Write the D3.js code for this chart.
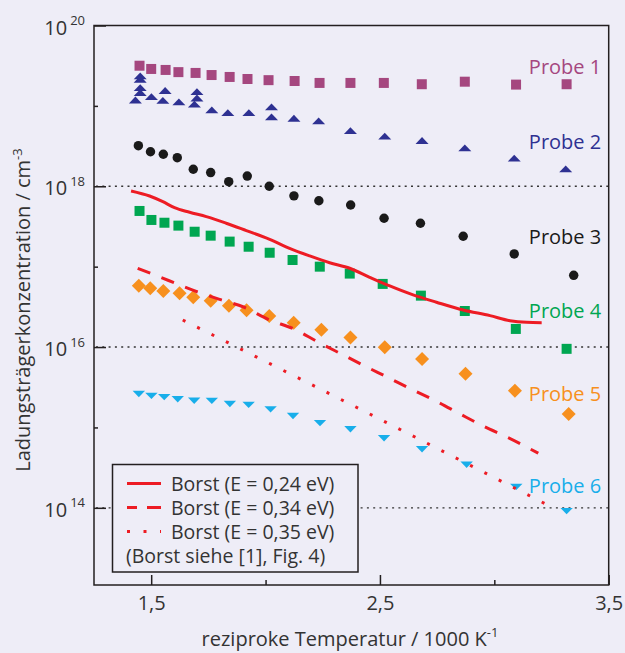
<!DOCTYPE html>
<html>
<head>
  <meta charset="utf-8">
  <title>Ladungsträgerkonzentration</title>
  <style>
    body { margin: 0; background: #eeedf7; }
    svg { display: block; font-family: "Open Sans", sans-serif; }
    .axis text { font-size: 20px; fill: #333; font-family: "Open Sans", sans-serif; }
    .axis line { stroke: #231f20; stroke-width: 1.5; }
    .axis .domain { display: none; }
  </style>
</head>
<body>
<svg id="chart" width="625" height="653"></svg>

<script src="https://cdn.jsdelivr.net/npm/d3@7"></script>
<script>
  // data: x = reciprocal temperature (1000/K), n = carrier concentration (cm^-3)
  const probeNames = ["Probe 1", "Probe 2", "Probe 3", "Probe 4", "Probe 5", "Probe 6"];

  const probe1X = [1.449, 1.500, 1.563, 1.619, 1.694, 1.764, 1.843, 1.921, 2.013, 2.127, 2.236, 2.371, 2.517, 2.683, 2.871, 3.095, 3.316];
  const probe1N = [3.16e19, 2.88e19, 2.80e19, 2.63e19, 2.57e19, 2.42e19, 2.29e19, 2.16e19, 2.09e19, 2.04e19, 1.93e19, 1.93e19, 1.93e19, 1.86e19, 2.0e19, 1.84e19, 1.86e19];

  const probe2X = [1.452, 1.452, 1.452, 1.452, 1.431, 1.501, 1.561, 1.551, 1.621, 1.700, 1.700, 1.689, 1.765, 1.835, 1.927, 2.026, 2.026, 2.124, 2.232, 2.371, 2.521, 2.684, 2.871, 3.087, 3.312];
  const probe2N = [2.36e19, 2.14e19, 1.68e19, 1.46e19, 1.18e19, 1.30e19, 1.55e19, 1.17e19, 1.12e19, 1.50e19, 1.25e19, 1.05e19, 8.9e18, 8.2e18, 8.2e18, 9.7e18, 7.3e18, 7.0e18, 6.5e18, 4.9e18, 4.2e18, 3.7e18, 3.0e18, 2.23e18, 1.64e18];

  const probe3X = [1.444, 1.497, 1.553, 1.614, 1.684, 1.760, 1.839, 1.920, 2.016, 2.124, 2.233, 2.372, 2.518, 2.677, 2.864, 3.087, 3.347];
  const probe3N = [3.2e18, 2.69e18, 2.5e18, 2.27e18, 1.63e18, 1.48e18, 1.14e18, 1.34e18, 1.0e18, 7.6e17, 6.6e17, 5.85e17, 4.0e17, 3.47e17, 2.39e17, 1.44e17, 7.8e16];

  const probe4X = [1.449, 1.501, 1.558, 1.619, 1.690, 1.760, 1.843, 1.926, 2.018, 2.118, 2.237, 2.368, 2.512, 2.679, 2.871, 3.094, 3.316];
  const probe4N = [4.93e17, 3.81e17, 3.52e17, 3.24e17, 2.72e17, 2.43e17, 2.05e17, 1.77e17, 1.49e17, 1.21e17, 1.0e17, 8.2e16, 6.1e16, 4.36e16, 2.81e16, 1.68e16, 9.5e15];

  const probe5X = [1.446, 1.496, 1.553, 1.624, 1.684, 1.760, 1.840, 1.917, 2.016, 2.123, 2.244, 2.371, 2.521, 2.684, 2.874, 3.090, 3.325];
  const probe5N = [5.8e16, 5.38e16, 4.99e16, 4.67e16, 4.16e16, 3.78e16, 3.27e16, 2.87e16, 2.44e16, 2.01e16, 1.64e16, 1.31e16, 9.95e15, 7.1e15, 4.67e15, 2.87e15, 1.47e15];

  const probe6X = [1.446, 1.501, 1.557, 1.616, 1.688, 1.765, 1.844, 1.926, 2.022, 2.120, 2.238, 2.371, 2.518, 2.684, 2.879, 3.096, 3.316];
  const probe6N = [2.61e15, 2.47e15, 2.38e15, 2.24e15, 2.15e15, 2.14e15, 1.96e15, 1.91e15, 1.68e15, 1.39e15, 1.13e15, 9.5e14, 7.35e14, 5.36e14, 3.44e14, 1.82e14, 9.1e13];

  // Borst curves
  const borstLabels = ["Borst (E = 0,24 eV)", "Borst (E = 0,34 eV)", "Borst (E = 0,35 eV)"];
  const borst024X = [1.412, 1.493, 1.551, 1.602, 1.668, 1.741, 1.828, 1.916, 2.018, 2.105, 2.193, 2.280, 2.368, 2.455, 2.543, 2.645, 2.747, 2.864, 2.981, 3.068, 3.141, 3.207];
  const borst024N = [8.75e17, 7.57e17, 6.43e17, 5.42e17, 4.75e17, 4.19e17, 3.47e17, 2.81e17, 2.19e17, 1.69e17, 1.36e17, 1.12e17, 9.55e16, 7.38e16, 5.75e16, 4.45e16, 3.61e16, 2.89e16, 2.46e16, 2.13e16, 2.03e16, 2.01e16];
  const borst034X = [1.441, 1.576, 1.685, 1.799, 1.904, 2.013, 2.123, 2.226, 2.331, 2.433, 2.539, 2.644, 2.749, 2.854, 2.954, 3.059, 3.192];
  const borst034N = [9.55e16, 6.73e16, 5.06e16, 3.91e16, 3.15e16, 2.20e16, 1.68e16, 1.17e16, 8.2e15, 5.82e15, 4.13e15, 2.92e15, 2.10e15, 1.45e15, 1.03e15, 7.5e14, 4.78e14];
  const borst035X = [1.638, 2.455, 3.269];
  const borst035N = [2.17e16, 1.47e15, 9.6e13];

  // tick labels
  const xMajorTicks = [1.5, 2.5, 3.5];
  const xMinorTicks = [2.0, 3.0];
  const yMajorExp = [14, 16, 18, 20];
  const yMinorExp = [15, 17, 19];

  // layout
  const width = 625;
  const height = 653;
  const plot = { left: 94, right: 608.7, top: 25.5, bottom: 585 };
  const red = "#ed1c24";
  const bg = "#eeedf7";

  const svg = d3.select("#chart");

  const x = d3.scaleLinear().domain([1.25, 3.5]).range([plot.left, plot.right]);
  const y = d3.scaleLog().domain([Math.pow(10, 13.04), 1e20]).range([plot.bottom, plot.top]);

  // dotted grid at 10^14, 10^16, 10^18
  svg.append("g")
     .selectAll("line")
     .data([1e14, 1e16, 1e18])
     .join("line")
     .attr("x1", plot.left + 2)
     .attr("x2", plot.right)
     .attr("y1", d => y(d))
     .attr("y2", d => y(d))
     .attr("stroke", "#333")
     .attr("stroke-width", 1.4)
     .attr("stroke-dasharray", "2 4.3");

  // axes
  const yMajor = svg.append("g")
     .attr("class", "axis")
     .attr("transform", `translate(${plot.left},0)`)
     .call(d3.axisLeft(y).tickValues(yMajorExp.map(e => Math.pow(10, e))).tickSize(-12).tickPadding(9));

  yMajor.selectAll(".tick text").each(function(d) {
    const t = d3.select(this);
    t.text(null).attr("dy", null).attr("y", 8.5);
    t.append("tspan").text("10");
    t.append("tspan")
     .attr("dx", 3)
     .attr("dy", -9.5)
     .style("font-size", "13px")
     .text(Math.round(Math.log10(d)));
  });

  svg.append("g")
     .attr("class", "axis")
     .attr("transform", `translate(${plot.left},0)`)
     .call(d3.axisLeft(y).tickValues(yMinorExp.map(e => Math.pow(10, e))).tickSize(-4).tickFormat(""));

  svg.append("g")
     .attr("class", "axis")
     .attr("transform", `translate(0,${plot.bottom})`)
     .call(d3.axisBottom(x).tickValues(xMajorTicks).tickSize(-10).tickPadding(11)
             .tickFormat(d => d3.format(".1f")(d).replace(".", ",")));

  svg.append("g")
     .attr("class", "axis")
     .attr("transform", `translate(0,${plot.bottom})`)
     .call(d3.axisBottom(x).tickValues(xMinorTicks).tickSize(-5).tickFormat(""));

  // marker shapes
  const shapes = {
    square: "M-5,-5H5V5H-5Z",
    triUp: "M-6.5,3.3L6.5,3.3L0,-3.5Z",
    circle: d3.symbol(d3.symbolCircle, 70)(),
    diamond: "M0,-7L7,0L0,7L-7,0Z",
    triDown: "M-6.2,-3.2L6.2,-3.2L0,3.2Z"
  };

  const probes = [
    { name: probeNames[0], xs: probe1X, ns: probe1N, color: "#a5477f", shape: "square" },
    { name: probeNames[1], xs: probe2X, ns: probe2N, color: "#2e3192", shape: "triUp" },
    { name: probeNames[2], xs: probe3X, ns: probe3N, color: "#1a1a1a", shape: "circle" },
    { name: probeNames[3], xs: probe4X, ns: probe4N, color: "#00a651", shape: "square" },
    { name: probeNames[4], xs: probe5X, ns: probe5N, color: "#f7901e", shape: "diamond" },
    { name: probeNames[5], xs: probe6X, ns: probe6N, color: "#18aeea", shape: "triDown" }
  ];

  // label anchors (x in 1000/K, baseline concentration)
  const labelAt = [[3.151, 2.5e19], [3.151, 2.91e18], [3.151, 1.92e17], [3.151, 2.3e16], [3.151, 2.15e15], [3.151, 1.55e14]];

  probes.forEach((p, i) => {
    const pts = p.xs.map((v, j) => [v, p.ns[j]]);
    svg.append("g")
       .selectAll("path")
       .data(pts)
       .join("path")
       .attr("transform", d => `translate(${x(d[0])},${y(d[1])})`)
       .attr("d", shapes[p.shape])
       .attr("fill", p.color);

    svg.append("text")
       .attr("x", x(labelAt[i][0]))
       .attr("y", y(labelAt[i][1]))
       .attr("fill", p.color)
       .style("font-size", "20px")
       .text(p.name);
  });

  // Borst lines
  const line = d3.line()
                 .x(d => x(d[0]))
                 .y(d => y(d[1]))
                 .curve(d3.curveMonotoneX);

  const borst = [
    { xs: borst024X, ns: borst024N, dash: null },
    { xs: borst034X, ns: borst034N, dash: "13.5 12" },
    { xs: borst035X, ns: borst035N, dash: "3 13.1" }
  ];

  borst.forEach(b => {
    svg.append("path")
       .datum(b.xs.map((v, j) => [v, b.ns[j]]))
       .attr("d", line)
       .attr("fill", "none")
       .attr("stroke", red)
       .attr("stroke-width", 3)
       .attr("stroke-dasharray", b.dash);
  });

  // frame
  svg.append("rect")
     .attr("x", plot.left)
     .attr("y", plot.top)
     .attr("width", plot.right - plot.left)
     .attr("height", plot.bottom - plot.top)
     .attr("fill", "none")
     .attr("stroke", "#231f20")
     .attr("stroke-width", 1.5);

  // legend (opaque box hides the grid line behind it)
  const legend = svg.append("g");
  legend.append("rect")
        .attr("x", 112.5)
        .attr("y", 464.5)
        .attr("width", 245.5)
        .attr("height", 107.5)
        .attr("fill", bg)
        .attr("stroke", "#231f20")
        .attr("stroke-width", 1.5);

  const legendDash = [null, "10 10 14", "3 13.5"];
  borst.forEach((b, i) => {
    const ly = 483.5 + i * 24;
    legend.append("line")
          .attr("x1", 127).attr("x2", 161)
          .attr("y1", ly).attr("y2", ly)
          .attr("stroke", red)
          .attr("stroke-width", 3)
          .attr("stroke-dasharray", legendDash[i]);
    legend.append("text")
          .attr("x", 171)
          .attr("y", ly + 7.3)
          .attr("fill", "#333")
          .style("font-size", "19.5px")
          .text(borstLabels[i]);
  });

  legend.append("text")
        .attr("x", 126)
        .attr("y", 562.8)
        .attr("fill", "#333")
        .style("font-size", "19.5px")
        .text("(Borst siehe [1], Fig. 4)");

  // axis titles
  const xt = svg.append("text")
     .attr("x", 350)
     .attr("y", 646)
     .attr("text-anchor", "middle")
     .attr("fill", "#333")
     .style("font-size", "20px");
  xt.append("tspan").text("reziproke Temperatur / 1000 K");
  xt.append("tspan").attr("dy", -9).style("font-size", "13px").text("-1");

  const yt = svg.append("text")
     .attr("transform", "translate(30,310) rotate(-90)")
     .attr("text-anchor", "middle")
     .attr("fill", "#333")
     .style("font-size", "20px");
  yt.append("tspan").text("Ladungsträgerkonzentration / cm");
  yt.append("tspan").attr("dy", -8).style("font-size", "13px").text("-3");
</script>
</body>
</html>
